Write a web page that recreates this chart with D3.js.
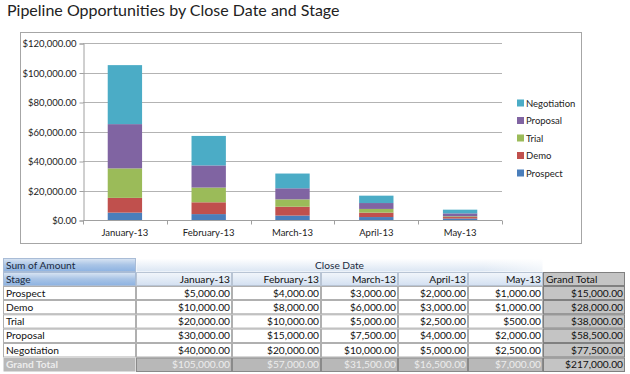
<!DOCTYPE html>
<html><head><meta charset="utf-8">
<script src="https://cdn.jsdelivr.net/npm/d3@7"></script>
<style>body{margin:0;background:#fff;} svg{display:block;font-family:Lato,"Open Sans",sans-serif;}</style>
</head><body>
<svg id="c" width="630" height="374"></svg>
<script>
const months = ["January-13","February-13","March-13","April-13","May-13"];
const stages = ["Prospect","Demo","Trial","Proposal","Negotiation"];
const prospect = [5000,4000,3000,2000,1000];
const demo = [10000,8000,6000,3000,1000];
const trial = [20000,10000,5000,2500,500];
const proposal = [30000,15000,7500,4000,2000];
const negotiation = [40000,20000,10000,5000,2500];
const yTicks = [0,20000,40000,60000,80000,100000,120000];
const colors = ["#4a7ebb","#c0504d","#9bbb59","#8064a2","#4bacc6"];

const seriesVals = [prospect,demo,trial,proposal,negotiation];
const rows = months.map((m,i)=>{const r={month:m}; stages.forEach((s,k)=>r[s]=seriesVals[k][i]); return r;});
const stacked = d3.stack().keys(stages)(rows);

const svg = d3.select("#c");
const fmt = v => "$" + d3.format(",.2f")(v);

svg.append("text").attr("x",7).attr("y",16).attr("font-size",16).attr("fill","#222")
  .text("Pipeline Opportunities by Close Date and Stage");

// chart frame
svg.append("rect").attr("x",20.5).attr("y",32.5).attr("width",561).attr("height",211)
  .attr("fill","#fff").attr("stroke","#a6a6a6");

const x = d3.scaleBand().domain(months).range([83,502]).padding(0);
const y = d3.scaleLinear().domain([0,120000]).range([220,43]);

// gridlines
svg.append("g").selectAll("line").data(yTicks.slice(1)).join("line")
  .attr("x1",83).attr("x2",502).attr("y1",d=>Math.round(y(d))+0.5).attr("y2",d=>Math.round(y(d))+0.5)
  .attr("stroke","#b3b3b3");

const yAxis = svg.append("g").attr("transform","translate(83.5,0.5)")
  .call(d3.axisLeft(y).tickValues(yTicks).tickSize(4).tickFormat(fmt));
yAxis.select(".domain").attr("stroke","#a0a0a0");
yAxis.selectAll(".tick line").attr("stroke","#a0a0a0");
yAxis.selectAll("text").attr("font-size",9.5).attr("fill","#222").attr("x",-7).attr("font-family","Lato,sans-serif");

// bars
const bwFrac = 0.41;
svg.append("g").selectAll("g").data(stacked).join("g").attr("fill",(d,i)=>colors[i])
  .selectAll("rect").data(d=>d).join("rect")
  .attr("x",d=>x(d.data.month)+x.bandwidth()*(1-bwFrac)/2)
  .attr("width",x.bandwidth()*bwFrac)
  .attr("y",d=>y(d[1])).attr("height",d=>y(d[0])-y(d[1]));

// x axis
const xg = svg.append("g").attr("transform","translate(0,220.5)");
xg.append("line").attr("x1",83).attr("x2",502).attr("stroke","#a0a0a0");
xg.selectAll("line.t").data(d3.range(months.length+1)).join("line").attr("class","t")
  .attr("x1",i=>Math.round(83+i*x.step())+0.5).attr("x2",i=>Math.round(83+i*x.step())+0.5)
  .attr("y1",0).attr("y2",4).attr("stroke","#a0a0a0");
xg.selectAll("text").data(months).join("text")
  .attr("x",d=>x(d)+x.bandwidth()/2).attr("y",15).attr("text-anchor","middle")
  .attr("font-size",9.5).attr("fill","#222").text(d=>d);

// legend
const legOrder = stages.slice().reverse();
const lg = svg.append("g").selectAll("g").data(legOrder).join("g")
  .attr("transform",(d,i)=>`translate(517,${103+i*17.5})`);
lg.append("rect").attr("x",0).attr("y",-3.5).attr("width",7).attr("height",7)
  .attr("fill",d=>colors[stages.indexOf(d)]);
lg.append("text").attr("x",9).attr("y",3.5).attr("font-size",9.5).attr("fill","#222").text(d=>d);

// ---- pivot table ----
const defs = svg.append("defs");
function grad(id, stops){
  const g = defs.append("linearGradient").attr("id",id).attr("x1",0).attr("y1",0).attr("x2",0).attr("y2",1);
  stops.forEach(s=>g.append("stop").attr("offset",s[0]).attr("stop-color",s[1]));
}
grad("gBlue",[[0,"#d9e5f3"],[0.5,"#a9c4e6"],[1,"#8db3e2"]]);
grad("gLight",[[0,"#ffffff"],[1,"#dbe6f3"]]);
grad("gHead",[[0,"#f2f6fb"],[1,"#d3e0f1"]]);
const hgr = defs.append("linearGradient").attr("id","gFade").attr("x1",0).attr("x2",1);
hgr.append("stop").attr("offset",0.85).attr("stop-color","#ffffff").attr("stop-opacity",0);
hgr.append("stop").attr("offset",1).attr("stop-color","#ffffff").attr("stop-opacity",0.6);

const colX = [3,136,232,321,398,468,543,625];
const rowY = [258,272,286,300,314.3,328.6,343,357.5,372];
const T = svg.append("g").attr("font-size",10.2);

function cell(c0,c1,r, fill, stroke){
  T.append("rect").attr("x",colX[c0]+0.5).attr("y",rowY[r]+0.5)
   .attr("width",colX[c1]-colX[c0]-1).attr("height",rowY[r+1]-rowY[r]-1)
   .attr("fill",fill).attr("stroke",stroke||"none");
}
function txt(str, c0, c1, r, anchor, color, bold){
  const yy = (rowY[r]+rowY[r+1])/2+3.5;
  const xx = anchor==="start" ? colX[c0]+3 : anchor==="end" ? colX[c1]-2 : (colX[c0]+colX[c1])/2;
  T.append("text").attr("x",xx).attr("y",yy).attr("text-anchor",anchor).attr("fill",color||"#111")
   .attr("font-weight",bold?"bold":null).text(str);
}

// header row 0
cell(0,1,0,"url(#gBlue)","#a9bcd6");
txt("Sum of  Amount",0,1,0,"start","#1a2a40");
cell(1,6,0,"url(#gLight)");
T.append("rect").attr("x",colX[1]).attr("y",rowY[0]).attr("width",colX[6]-colX[1]).attr("height",rowY[1]-rowY[0]).attr("fill","url(#gFade)");
txt("Close Date",1,6,0,"middle","#1a2a40");

// header row 1
cell(0,1,1,"url(#gBlue)","#a9bcd6");
txt("Stage",0,1,1,"start","#1a2a40");
months.forEach((m,i)=>{ cell(i+1,i+2,1,"url(#gHead)","#b8c4d4"); txt(m,i+1,i+2,1,"end","#111"); });
cell(6,7,1,"#c4c4c4","#808080");
txt("Grand Total",6,7,1,"start","#111");

// data rows
stages.forEach((s,k)=>{
  const r = k+2;
  cell(0,1,r,"#ffffff","#b0b0b0");
  txt(s,0,1,r,"start","#111");
  months.forEach((m,i)=>{ cell(i+1,i+2,r,"#ffffff","#b0b0b0"); txt(fmt(seriesVals[k][i]),i+1,i+2,r,"end","#111"); });
  cell(6,7,r,"#c4c4c4","#808080");
  txt(fmt(d3.sum(seriesVals[k])),6,7,r,"end","#111");
});

// grand total row
const gr = 7;
cell(0,1,gr,"#b8b8b8");
txt("Grand Total",0,1,gr,"start","#ececec",true);
months.forEach((m,i)=>{ cell(i+1,i+2,gr,"#b8b8b8","#8a8a8a"); txt(fmt(d3.sum(seriesVals,a=>a[i])),i+1,i+2,gr,"end","#ececec"); });
cell(6,7,gr,"#c4c4c4","#808080");
txt(fmt(d3.sum(seriesVals.flat())),6,7,gr,"end","#111");
</script>
</body></html>
